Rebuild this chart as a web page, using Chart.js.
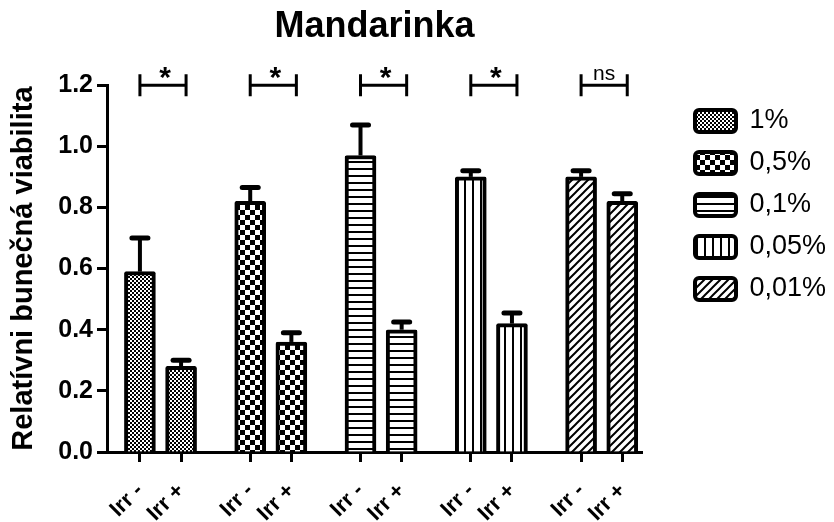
<!DOCTYPE html>
<html>
<head>
<meta charset="utf-8">
<script src="https://cdn.jsdelivr.net/npm/chart.js@4.4.1/dist/chart.umd.min.js"></script>
<style>
  html, body { margin: 0; padding: 0; background: #fff; }
</style>
</head>
<body>
<canvas id="myChart" width="834" height="522"></canvas>
<script>
// data
const concentrations = ["1%", "0,5%", "0,1%", "0,05%", "0,01%"];
const irrLabels = ["Irr -", "Irr +"];
const irrMinus = [0.59, 0.82, 0.97, 0.90, 0.90];
const irrMinusErr = [0.11, 0.045, 0.10, 0.02, 0.02];
const irrPlus = [0.28, 0.36, 0.40, 0.42, 0.82];
const irrPlusErr = [0.02, 0.03, 0.025, 0.035, 0.025];
const significance = ["*", "*", "*", "*", "ns"];
const yTicks = [0, 0.2, 0.4, 0.6, 0.8, 1.0, 1.2];

const FONT = "'Liberation Sans', Arial, sans-serif";
Chart.defaults.font.family = FONT;
Chart.defaults.color = "#000";

const ctx = document.getElementById("myChart").getContext("2d");

// fill patterns, one per concentration
const makePattern = (size, draw) => {
  const c = document.createElement("canvas");
  c.width = size;
  c.height = size;
  const g = c.getContext("2d");
  g.fillStyle = "#fff";
  g.fillRect(0, 0, size, size);
  g.fillStyle = "#000";
  g.strokeStyle = "#000";
  draw(g, size);
  return ctx.createPattern(c, "repeat");
};
const patterns = [
  makePattern(4, (g) => { g.fillRect(0, 0, 2, 2); g.fillRect(2, 2, 2, 2); }),
  makePattern(10, (g) => { g.fillRect(0, 0, 5, 5); g.fillRect(5, 5, 5, 5); }),
  makePattern(7, (g) => { g.fillRect(0, 0, 7, 2); }),
  makePattern(8, (g) => { g.fillRect(0, 0, 2, 8); }),
  makePattern(8, (g, s) => {
    g.lineWidth = 2;
    g.beginPath();
    g.moveTo(0, s); g.lineTo(s, 0);
    g.moveTo(-2, 2); g.lineTo(2, -2);
    g.moveTo(s - 2, s + 2); g.lineTo(s + 2, s - 2);
    g.stroke();
  }),
];

// bars sit in pairs, pairs are spaced a bit wider
const groupStep = 2.68;
const tickPositions = [];
const datasets = concentrations.map((label, g) => {
  const xm = g * groupStep;
  const xp = g * groupStep + 1;
  tickPositions.push(xm, xp);
  return {
    label: label,
    data: [
      { x: xm, y: irrMinus[g], err: irrMinusErr[g] },
      { x: xp, y: irrPlus[g], err: irrPlusErr[g] },
    ],
    backgroundColor: patterns[g],
    borderColor: "#000",
    borderWidth: 4,
    borderRadius: 2,
    barThickness: 31,
    grouped: false,
  };
});

const extras = {
  id: "extras",
  afterDatasetsDraw(chart) {
    const { ctx, scales: { x, y } } = chart;
    ctx.save();
    ctx.strokeStyle = "#000";
    // error bars (upper only)
    chart.data.datasets.forEach((ds, i) => {
      chart.getDatasetMeta(i).data.forEach((bar, j) => {
        const p = ds.data[j];
        const top = y.getPixelForValue(p.y + p.err);
        ctx.lineCap = "butt";
        ctx.lineWidth = 4;
        ctx.beginPath();
        ctx.moveTo(bar.x, bar.y);
        ctx.lineTo(bar.x, top);
        ctx.stroke();
        ctx.lineCap = "round";
        ctx.lineWidth = 5;
        ctx.beginPath();
        ctx.moveTo(bar.x - 8, top);
        ctx.lineTo(bar.x + 8, top);
        ctx.stroke();
      });
    });
    // significance brackets
    const by = y.getPixelForValue(1.2);
    ctx.lineCap = "butt";
    significance.forEach((s, g) => {
      const x1 = x.getPixelForValue(tickPositions[g * 2]);
      const x2 = x.getPixelForValue(tickPositions[g * 2 + 1]) + 5;
      ctx.lineWidth = 3;
      ctx.beginPath();
      ctx.moveTo(x1, by); ctx.lineTo(x2, by);
      ctx.moveTo(x1, by - 11); ctx.lineTo(x1, by + 11);
      ctx.moveTo(x2, by - 11); ctx.lineTo(x2, by + 11);
      ctx.stroke();
      ctx.fillStyle = "#000";
      ctx.textAlign = "center";
      ctx.textBaseline = "alphabetic";
      if (s === "ns") {
        ctx.font = "21px " + FONT;
        ctx.fillText(s, (x1 + x2) / 2, by - 5);
      } else {
        ctx.font = "bold 30px " + FONT;
        ctx.fillText(s, (x1 + x2) / 2 + 2, by + 2);
      }
    });
    ctx.restore();
  },
};

new Chart(ctx, {
  type: "bar",
  data: { datasets: datasets },
  plugins: [extras],
  options: {
    responsive: false,
    animation: false,
    devicePixelRatio: 1,
    layout: { padding: { right: 8 } },
    plugins: {
      title: {
        display: true,
        text: "Mandarinka",
        fullSize: false,
        font: { size: 36, weight: "bold" },
        padding: { top: 5, bottom: 37 },
      },
      legend: {
        position: "right",
        align: "start",
        fullSize: false,
        maxWidth: 146,
        title: { display: true, text: "", padding: 0, font: { size: 6 } },
        labels: {
          boxWidth: 41,
          boxHeight: 22,
          padding: 15,
          useBorderRadius: true,
          borderRadius: 4,
          font: { size: 27 },
        },
      },
      tooltip: { enabled: false },
    },
    scales: {
      x: {
        type: "linear",
        min: -0.8,
        max: 12.2,
        offset: false,
        afterFit: (s) => { s.height = 70; },
        afterBuildTicks: (s) => { s.ticks = tickPositions.map((v) => ({ value: v })); },
        border: { width: 3, color: "#000" },
        grid: { drawOnChartArea: false, offset: false, tickLength: 10, tickWidth: 3, color: "#000" },
        ticks: {
          autoSkip: false,
          minRotation: 45,
          maxRotation: 45,
          padding: 16,
          font: { size: 22, weight: "bold" },
          callback: (v, i) => irrLabels[i % 2],
        },
      },
      y: {
        min: 0,
        max: 1.2,
        afterFit: (s) => { s.width = 107; },
        afterBuildTicks: (s) => { s.ticks = yTicks.map((v) => ({ value: v })); },
        border: { width: 3, color: "#000" },
        grid: { drawOnChartArea: false, tickLength: 10, tickWidth: 3, color: "#000" },
        ticks: {
          padding: 4,
          font: { size: 25, weight: "bold" },
          callback: (v) => v.toFixed(1),
        },
        title: {
          display: true,
          text: "Relatívni bunečná viabilita",
          font: { size: 29, weight: "bold" },
          padding: { top: 7, bottom: 10 },
        },
      },
      spacer: {
        type: "linear",
        position: "right",
        display: true,
        afterFit: (s) => { s.width = 38; },
        grid: { display: false },
        border: { display: false },
        ticks: { display: false },
      },
    },
  },
});
</script>
</body>
</html>
